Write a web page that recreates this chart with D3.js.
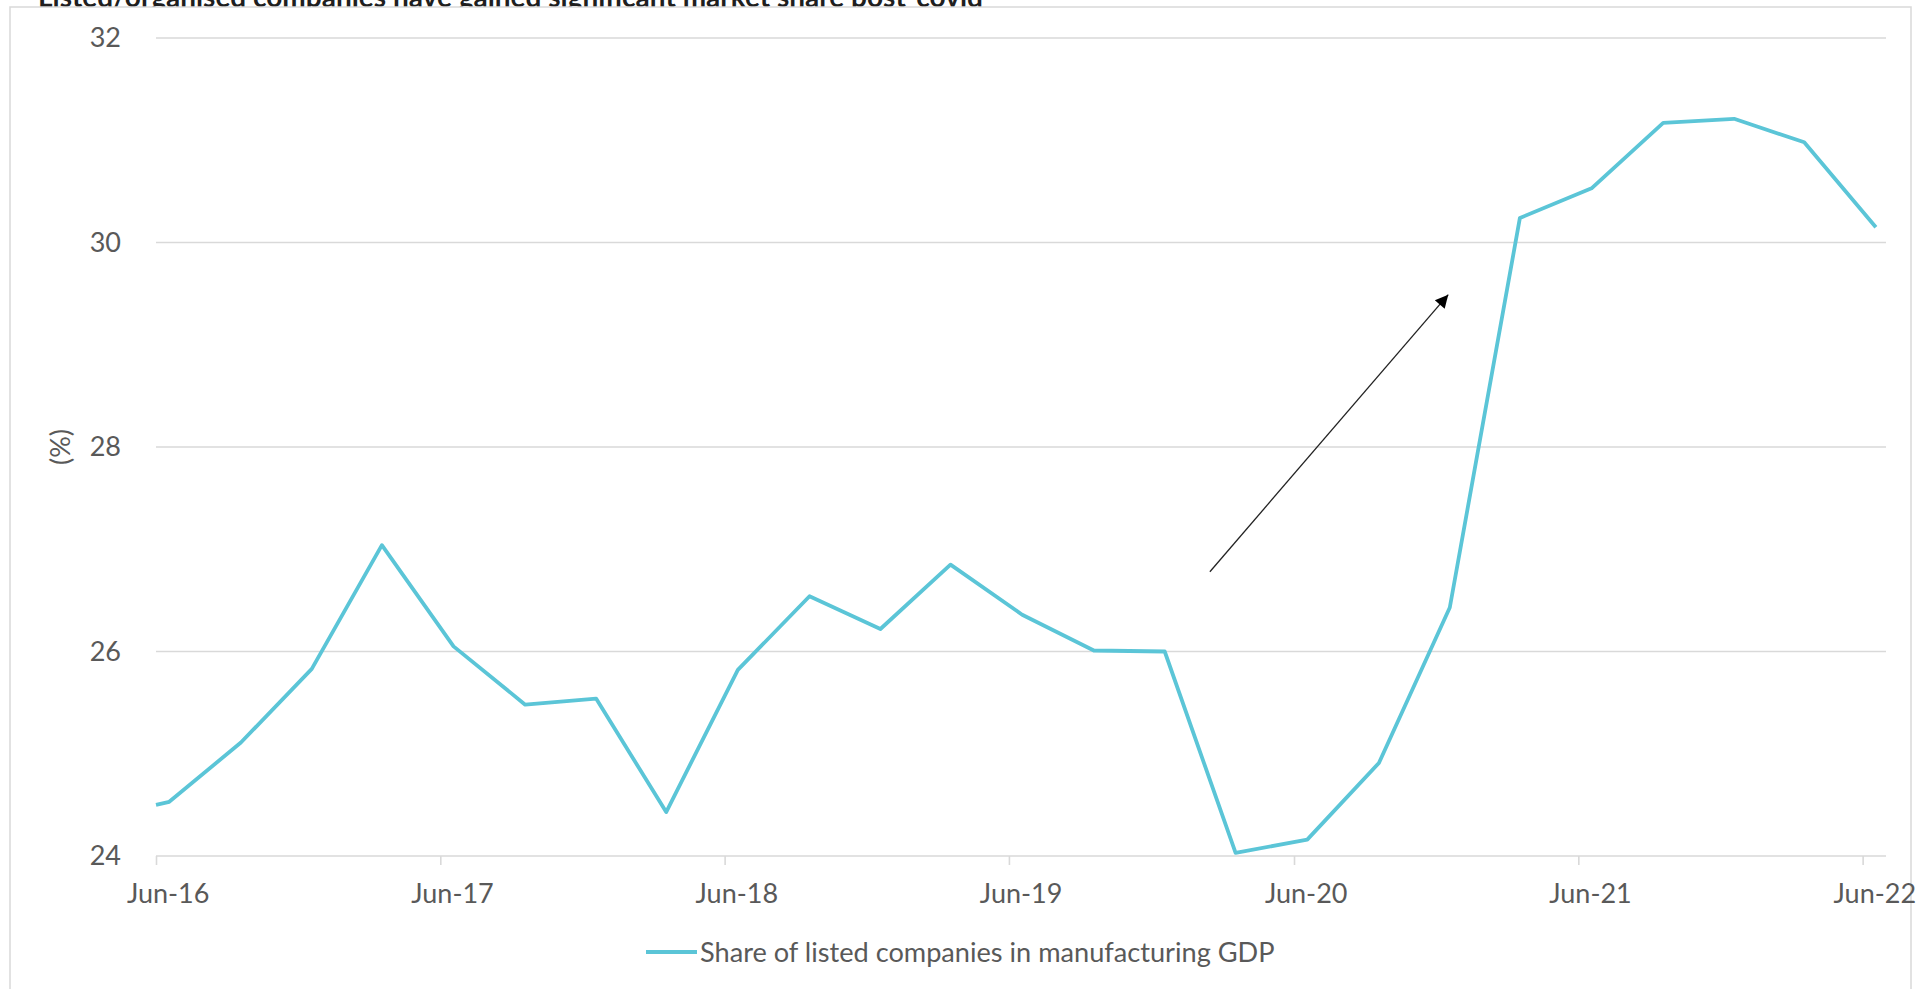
<!DOCTYPE html>
<html>
<head>
<meta charset="utf-8">
<script src="https://cdn.jsdelivr.net/npm/d3@7"></script>
<style>
  html, body { margin: 0; padding: 0; background: #ffffff; overflow: hidden; }
  svg { display: block; }
  text { font-family: Lato, "Open Sans", sans-serif; }
</style>
</head>
<body>
<svg id="chart" width="1916" height="989"></svg>
<script>
// Quarterly share of listed companies in manufacturing GDP (%)
const dates = [
  "2016-06-01", "2016-06-18", "2016-09-18", "2016-12-18",
  "2017-03-18", "2017-06-18", "2017-09-18", "2017-12-18",
  "2018-03-18", "2018-06-18", "2018-09-18", "2018-12-18",
  "2019-03-18", "2019-06-18", "2019-09-18", "2019-12-18",
  "2020-03-18", "2020-06-18", "2020-09-18", "2020-12-18",
  "2021-03-18", "2021-06-18", "2021-09-18", "2021-12-18",
  "2022-03-18", "2022-06-18"
];
const shareValues = [
  24.50, 24.53, 25.11, 25.83,
  27.04, 26.05, 25.48, 25.54,
  24.43, 25.82, 26.54, 26.22,
  26.85, 26.36, 26.01, 26.00,
  24.03, 24.16, 24.91, 26.43,
  30.24, 30.53, 31.17, 31.21,
  30.98, 30.15
];
const yTicks = [24, 26, 28, 30, 32];
const xTickDates = ["2016-06-01", "2017-06-01", "2018-06-01", "2019-06-01",
                    "2020-06-01", "2021-06-01", "2022-06-01"];
const seriesName = "Share of listed companies in manufacturing GDP";
const titleText = "Listed/organised companies have gained significant market share post-covid";
const yAxisTitle = "(%)";
// Trend annotation: arrow from [date, value] to [date, value]
const arrowFrom = ["2020-02-14", 26.78];
const arrowTo = ["2020-12-16", 29.49];

const parse = d3.utcParse("%Y-%m-%d");
const fmt = d3.utcFormat("%b-%y");

const svg = d3.select("#chart");
const lineColor = "#5bc5d7";
const gridColor = "#d9d9d9";
const labelColor = "#595959";
const labelSize = 27;

// Fit a text element to a target width by adjusting its font size
function fitWidth(sel, base, target) {
  sel.attr("font-size", base);
  const w = sel.node().getComputedTextLength();
  sel.attr("font-size", base * target / w);
}

// Title (partly hidden behind the chart frame)
const title = svg.append("text")
  .attr("x", 38).attr("y", 7)
  .attr("font-weight", 700)
  .attr("fill", "#1f1f1f")
  .text(titleText);
fitWidth(title, 26, 945);

// Chart frame
svg.append("rect")
  .attr("x", 10).attr("y", 7)
  .attr("width", 1901).attr("height", 1000)
  .attr("fill", "#ffffff")
  .attr("stroke", gridColor)
  .attr("stroke-width", 1.5);

const x = d3.scaleUtc()
  .domain([parse("2016-06-01"), parse("2022-07-01")])
  .range([156, 1886]);
const y = d3.scaleLinear()
  .domain([24, 32])
  .range([856, 38]);

// Horizontal gridlines
svg.append("g")
  .selectAll("line")
  .data(yTicks.filter(v => v !== 24))
  .join("line")
  .attr("x1", x.range()[0]).attr("x2", x.range()[1])
  .attr("y1", d => y(d)).attr("y2", d => y(d))
  .attr("stroke", gridColor)
  .attr("stroke-width", 1.4);

// Y axis labels
const yAxis = svg.append("g")
  .attr("transform", `translate(${x.range()[0] - 35},0)`)
  .call(d3.axisLeft(y).tickValues(yTicks).tickSize(0).tickPadding(0).tickFormat(d3.format("d")));
yAxis.select(".domain").remove();
yAxis.selectAll("text")
  .attr("font-size", labelSize)
  .attr("fill", labelColor)
  .style("font-family", "Lato, 'Open Sans', sans-serif");

// X axis: ticks at start of June, labels centred on the month
const tickDates = xTickDates.map(parse);
const xAxis = svg.append("g")
  .attr("transform", `translate(0,${y(24)})`)
  .call(d3.axisBottom(x).tickValues(tickDates).tickSize(9).tickPadding(0).tickFormat(fmt));
xAxis.select(".domain")
  .attr("stroke", gridColor)
  .attr("stroke-width", 1.6)
  .attr("d", `M${x.range()[0]},0H${x.range()[1]}`);
xAxis.selectAll(".tick line").attr("stroke", gridColor).attr("stroke-width", 1.6);
xAxis.selectAll(".tick text")
  .attr("font-size", labelSize)
  .attr("fill", labelColor)
  .style("font-family", "Lato, 'Open Sans', sans-serif")
  .attr("dy", null)
  .attr("y", 47)
  .attr("x", d => x(d3.utcDay.offset(d, 15)) - x(d));

// Y axis title
svg.append("text")
  .attr("transform", `translate(70,${y(28)}) rotate(-90)`)
  .attr("text-anchor", "middle")
  .attr("font-size", labelSize)
  .attr("fill", labelColor)
  .text(yAxisTitle);

// Series line
const points = dates.map((d, i) => ({ date: parse(d), value: shareValues[i] }));
svg.append("path")
  .datum(points)
  .attr("fill", "none")
  .attr("stroke", lineColor)
  .attr("stroke-width", 3.8)
  .attr("stroke-linejoin", "round")
  .attr("d", d3.line().x(d => x(d.date)).y(d => y(d.value)));

// Annotation arrow
const defs = svg.append("defs");
defs.append("marker")
  .attr("id", "arrowhead")
  .attr("viewBox", "0 0 10 10")
  .attr("refX", 10).attr("refY", 5)
  .attr("markerUnits", "userSpaceOnUse")
  .attr("markerWidth", 17).attr("markerHeight", 13)
  .attr("orient", "auto")
  .append("path")
  .attr("d", "M0,0L10,5L0,10Z")
  .attr("fill", "#000000");
svg.append("line")
  .attr("x1", x(parse(arrowFrom[0]))).attr("y1", y(arrowFrom[1]))
  .attr("x2", x(parse(arrowTo[0]))).attr("y2", y(arrowTo[1]))
  .attr("stroke", "#222222")
  .attr("stroke-width", 1.3)
  .attr("marker-end", "url(#arrowhead)");

// Legend
const legend = svg.append("g").attr("transform", "translate(646,952)");
legend.append("line")
  .attr("x1", 0).attr("x2", 51)
  .attr("y1", 0).attr("y2", 0)
  .attr("stroke", lineColor)
  .attr("stroke-width", 3.8);
const legText = legend.append("text")
  .attr("x", 54).attr("y", 10)
  .attr("fill", labelColor)
  .text(seriesName);
fitWidth(legText, 27, 575);
</script>
</body>
</html>
